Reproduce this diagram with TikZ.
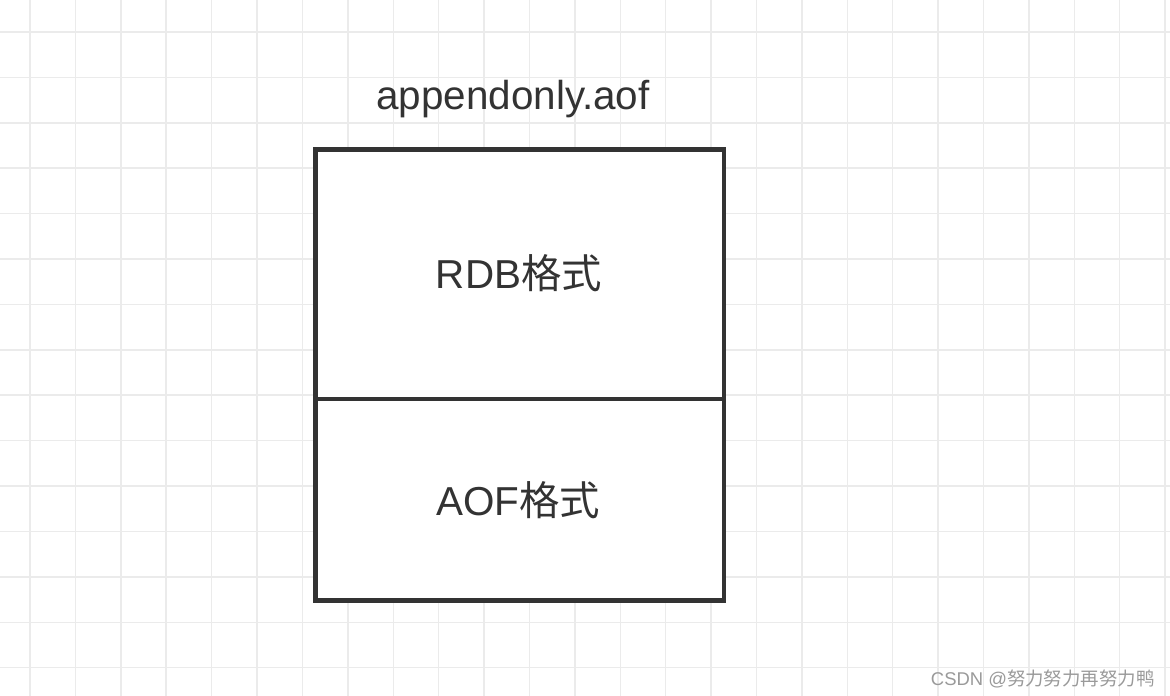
\documentclass[tikz,border=0pt]{standalone}
\usepackage{fontspec}
\setmainfont{Liberation Sans}
\newfontfamily\cjk{Noto Sans CJK SC}
\definecolor{ink}{HTML}{333333}
\definecolor{gridgray}{HTML}{EBEBEB}
\definecolor{markgray}{HTML}{9A9A9A}

\begin{document}
\begin{tikzpicture}[x=0.02cm, y=-0.02cm,
        cell/.style={draw=ink, line width=2.5pt, fill=white, minimum width=8.17cm, inner sep=0pt},
        title/.style={text=ink, font=\fontsize{23}{27}\selectfont, anchor=base, inner sep=0pt}]
        % paper
            \fill[white] (0,0) rectangle (1170,696);
            \useasboundingbox (0,0) rectangle (1170,696);
            \foreach \x in {0,...,25}{
                \draw[gridgray, line width=0.8pt] (30+45.4*\x,0) -- (30+45.4*\x,696);
            }
            \foreach \y in {0,...,14}{
                \draw[gridgray, line width=0.8pt] (0,32+45.4*\y) -- (1170,32+45.4*\y);
            }
        % file
            \node[cell, minimum height=4.99cm] (rdb) at (519.75,274.25) {};
            \node[cell, minimum height=4.03cm] (aof) at (519.75,499.75) {};
        % labels
            \node[title] (file) at (513,110) {appendonly.aof};
            \node[title] (rdbtext) at (519,288) {RDB{\cjk 格式}};
            \node[title] (aoftext) at (518,515) {AOF{\cjk 格式}};
            \node[text=markgray, font=\fontsize{10.5}{12}\selectfont, anchor=base east, inner sep=0pt] (mark) at (1155,685) {CSDN @{\cjk 努力努力再努力鸭}};
        \end{tikzpicture}
\end{document}
